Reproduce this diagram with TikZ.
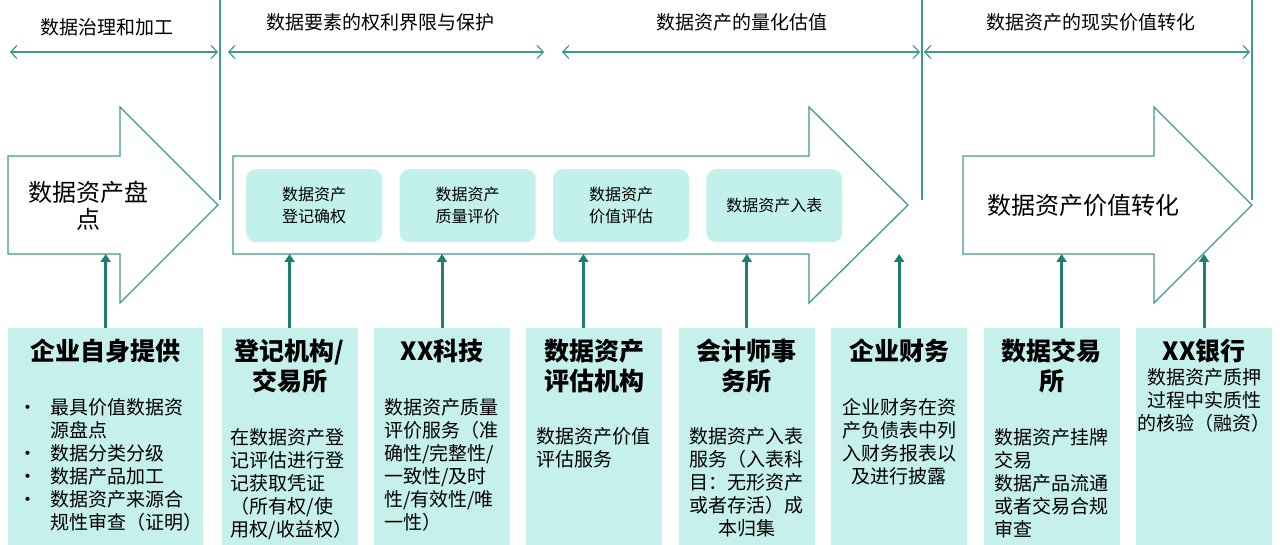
\documentclass[tikz,border=0pt]{standalone}
\usepackage{fontspec}
\setmainfont{Noto Sans CJK SC}
\usetikzlibrary{arrows.meta,positioning}
\definecolor{tealline}{HTML}{3E9A8D}
\definecolor{tealarrow}{HTML}{1E7E71}
\definecolor{phasefill}{HTML}{C2F0EA}
\definecolor{boxfill}{HTML}{C6F0EB}
\tikzset{
  band/.style={draw=tealline, line width=1.3pt, fill=white, line join=miter},
  phase/.style={fill=phasefill, rounded corners=10pt, minimum width=136pt, minimum height=73pt,
    inner sep=0pt, align=center, font=\fontsize{16}{22}\selectfont},
  party/.style={fill=boxfill, minimum width=136pt, minimum height=217pt, inner sep=0pt},
  partytitle/.style={font=\fontsize{25}{30}\selectfont\bfseries, align=center, inner sep=0pt},
  partybody/.style={font=\fontsize{19}{23}\selectfont, inner sep=0pt},
  feed/.style={draw=tealarrow, line width=3pt, -{Triangle[length=8pt,width=10pt]}},
  span/.style={draw=tealline, line width=1.2pt,
    {Straight Barb[length=6pt,width=13pt]}-{Straight Barb[length=6pt,width=13pt]}},
  divider/.style={draw=tealline, line width=1.2pt},
  heading/.style={font=\fontsize{19}{23}\selectfont, inner sep=0pt},
  bigtext/.style={font=\fontsize{24}{27}\selectfont, align=center, inner sep=0pt}
}

\begin{document}
\begin{tikzpicture}[x=1pt,y=-1pt]
   \useasboundingbox (0,0) rectangle (1280,545);

   % stage headings
   \node[heading] (hGov)   at (107,27) {数据治理和加工};
   \node[heading] (hRight) at (380,22) {数据要素的权利界限与保护};
   \node[heading] (hValue) at (742,22) {数据资产的量化估值};
   \node[heading] (hReal)  at (1091,22) {数据资产的现实价值转化};
   \foreach \i/\a/\b in {1/10/218, 2/228/544, 3/562/920, 4/924/1250} {
      \coordinate (l\i) at (\a,52);
      \coordinate (r\i) at (\b,52);
      \draw[span] (l\i) -- (r\i);
   }
   \foreach \x in {220,922,1252}
      \draw[divider] (\x,0) -- (\x,200);

   % big arrows
   \foreach \a/\h/\t in {8/120/218, 233/809/908, 963/1154/1252}
      \draw[band] (\a,156) -- (\h,156) -- (\h,107) -- (\t,205) -- (\h,303)
                  -- (\h,254) -- (\a,254) -- cycle;
   \coordinate (band) at (0,254);
   \node[bigtext] (pandian) at (88,206) {数据资产盘\\点};
   \node[bigtext] (zhuanhua) at (1083,205) {数据资产价值转化};

   \node[phase, anchor=north west] (p1) at (246,169) {数据资产\\登记确权};
   \node[phase] (p2) [right=17pt of p1] {数据资产\\质量评价};
   \node[phase] (p3) [right=17pt of p2] {数据资产\\价值评估};
   \node[phase] (p4) [right=17pt of p3] {数据资产入表};

   % participants
   \node[party, minimum width=195pt, anchor=north west] (b1) at (8,328) {};
   \node[party] (b2) [right=18pt of b1] {};
   \node[party] (b3) [right=16pt of b2] {};
   \node[party] (b4) [right=16pt of b3] {};
   \node[party] (b5) [right=16pt of b4] {};
   \node[party] (b6) [right=16pt of b5] {};
   \node[party] (b7) [right=16pt of b6] {};
   \node[party] (b8) [right=16pt of b7] {};

   \node[partytitle] (t1) [below=11pt of b1.north] {企业自身提供};
   \node[partytitle] (t2) [below=11pt of b2.north] {登记机构/\\交易所};
   \node[partytitle] (t3) [below=11pt of b3.north] {XX科技};
   \node[partytitle] (t4) [below=11pt of b4.north] {数据资产\\评估机构};
   \node[partytitle] (t5) [below=11pt of b5.north] {会计师事\\务所};
   \node[partytitle] (t6) [below=11pt of b6.north] {企业财务};
   \node[partytitle] (t7) [below=11pt of b7.north] {数据交易\\所};
   \node[partytitle] (t8) [below=11pt of b8.north] {XX银行};

   \node[partybody] (d1) [below right=70pt and 10pt of b1.north west] {%
      \begin{tabular}{@{}p{32pt}@{}l@{}}
      • & 最具价值数据资\\
        & 源盘点\\
      • & 数据分类分级\\
      • & 数据产品加工\\
      • & 数据资产来源合\\
        & 规性审查（证明）
      \end{tabular}};
   \node[partybody, align=left] (d2) [below right=100pt and 9pt of b2.north west]
      {在数据资产登\\记评估进行登\\记获取凭证\\（所有权/使\\用权/收益权）};
   \node[partybody, align=left] (d3) [below right=70pt and 10pt of b3.north west]
      {数据资产质量\\评价服务（准\\确性/完整性/\\一致性/及时\\性/有效性/唯\\一性）};
   \node[partybody, align=left] (d4) [below right=99pt and 10pt of b4.north west]
      {数据资产价值\\评估服务};
   \node[partybody, align=center] (d5) [below=99pt of b5.north]
      {数据资产入表\\服务（入表科\\目：无形资产\\或者存活）成\\本归集};
   \node[partybody, align=center] (d6) [below=70pt of b6.north]
      {企业财务在资\\产负债表中列\\入财务报表以\\及进行披露};
   \node[partybody, align=left] (d7) [below right=100pt and 11pt of b7.north west]
      {数据资产挂牌\\交易\\数据产品流通\\或者交易合规\\审查};
   \node[partybody, align=center] (d8) [below=40pt of b8.north]
      {数据资产质押\\过程中实质性\\的核验（融资）};

   % feeds into the arrows
   \draw[feed] (b1.north) -- (b1.north |- band);
   \draw[feed] (b2.north) -- (b2.north |- band);
   \draw[feed] (b3.north) -- (b3.north |- band);
   \draw[feed] ([xshift=-11pt]b4.north) -- ([xshift=-11pt]b4.north |- band);
   \draw[feed] (b5.north) -- (b5.north |- band);
   \draw[feed] (b6.north) -- (b6.north |- band);
   \draw[feed] ([xshift=10pt]b7.north) -- ([xshift=10pt]b7.north |- band);
   \draw[feed] (b8.north) -- (b8.north |- band);
\end{tikzpicture}
\end{document}
